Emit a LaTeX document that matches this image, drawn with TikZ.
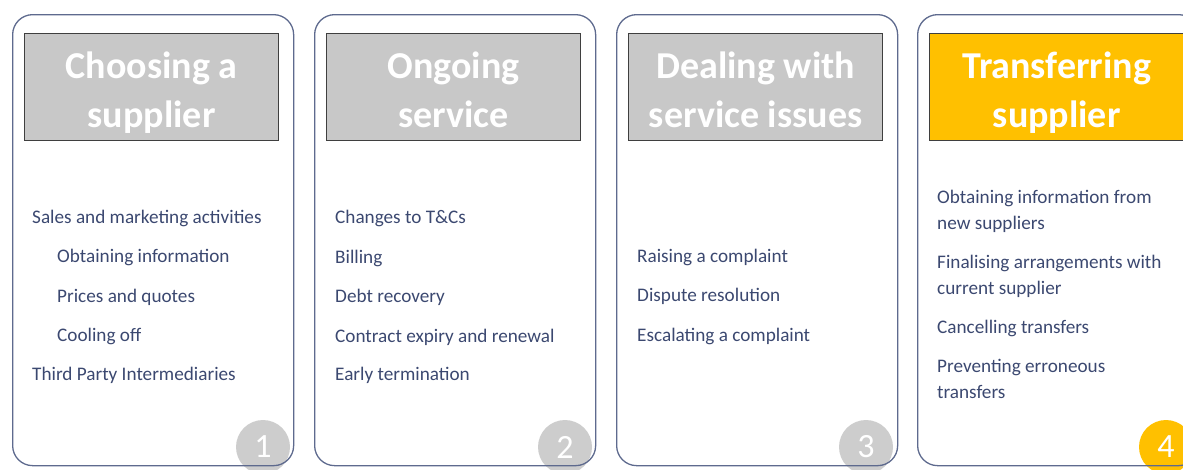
\documentclass[tikz,border=0pt]{standalone}
\usepackage{fontspec}
\setmainfont{Carlito}
\usepackage{xcolor}
\usepackage{tikz}
\definecolor{cardline}{HTML}{5E6A8E}
\definecolor{headline}{HTML}{3F3F3F}
\definecolor{headgrey}{HTML}{C8C8C8}
\definecolor{headgold}{HTML}{FFC000}
\definecolor{numgrey}{HTML}{CDCDCD}
\definecolor{itemblue}{HTML}{3B4870}
\usetikzlibrary{positioning}

\begin{document}
\begin{tikzpicture}[x=1pt,y=-1pt,
  card/.style={draw=cardline,line width=1.3pt,rounded corners=20pt,anchor=north west,
               inner sep=0pt,minimum width=281pt,minimum height=451pt},
  head/.style={draw=headline,line width=1.3pt,fill=headgrey,anchor=north west,
               minimum width=254pt,minimum height=107pt,inner sep=0pt},
  title/.style={align=center,inner sep=0pt,yshift=-6pt,text=white,
                font=\fontsize{38}{49}\selectfont\bfseries},
  item/.style={anchor=base west,inner sep=0pt,align=left,text=itemblue,
               font=\fontsize{19.2}{26}\selectfont},
  num/.style={circle,fill=numgrey,minimum size=54pt,inner sep=0pt,text=white,
              font=\fontsize{34}{34}\selectfont}]
\useasboundingbox (0,0) rectangle (1183,469);
% step numbers sit behind the card outlines
\node[num] (n1) at (263,447) {1};
\node[num] (n2) at (565,447) {2};
\node[num] (n3) at (866,447) {3};
\node[num,fill=headgold] (n4) at (1166,447) {4};
% cards
\node[card] (c1) at (12,14) {};
\node[card] (c2) at (314,14) {};
\node[card] (c3) at (616,14) {};
\node[card] (c4) at (917,14) {};
% headings
\node[head] (h1) at (24,33) {};
\node[head] (h2) at (326,33) {};
\node[head] (h3) at (628,33) {};
\node[head,fill=headgold] (h4) at (929,33) {};
\node[title] (h1t) at (h1) {Choosing a\strut\\supplier\strut};
\node[title] (h2t) at (h2) {Ongoing\strut\\service\strut};
\node[title] (h3t) at (h3) {Dealing with\strut\\service issues\strut};
\node[title] (h4t) at (h4) {Transferring\strut\\supplier\strut};
% choosing a supplier
\node[item] (s1) at (32,223) {Sales and marketing activities};
\node[item] (s2) at (57,262) {Obtaining information};
\node[item] (s3) at (57,302) {Prices and quotes};
\node[item] (s4) at (57,341) {Cooling off};
\node[item] (s5) at (32,380) {Third Party Intermediaries};
% ongoing service
\node[item] (o1) at (335,223) {Changes to T\&Cs};
\node[item] (o2) at (335,263) {Billing};
\node[item] (o3) at (335,302) {Debt recovery};
\node[item] (o4) at (335,342) {Contract expiry and renewal};
\node[item] (o5) at (335,380) {Early termination};
% service issues
\node[item] (d1) at (637,262) {Raising a complaint};
\node[item] (d2) at (637,301) {Dispute resolution};
\node[item] (d3) at (637,341) {Escalating a complaint};
% transferring supplier (base is the last line)
\node[item] (t1) at (937,229) {Obtaining information from\\new suppliers};
\node[item] (t2) at (937,294) {Finalising arrangements with\\current supplier};
\node[item] (t3) at (937,333) {Cancelling transfers};
\node[item] (t4) at (937,398) {Preventing erroneous\\transfers};
\end{tikzpicture}
\end{document}
